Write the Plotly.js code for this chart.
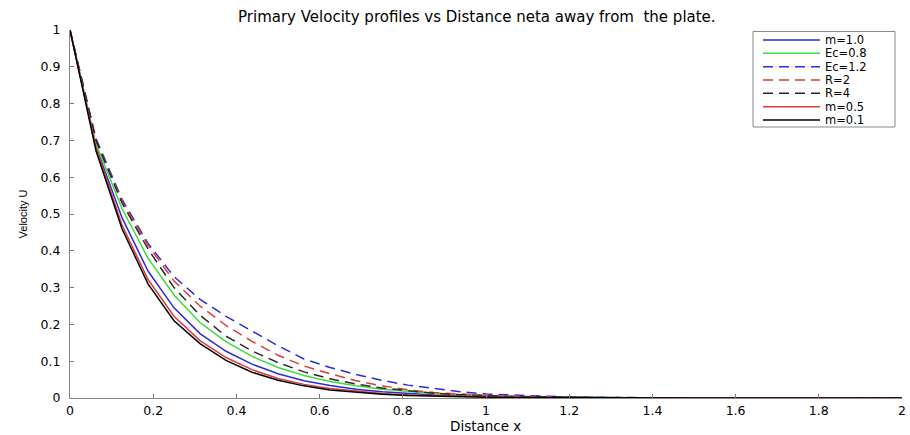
<!DOCTYPE html>
<html>
<head>
<meta charset="utf-8">
<script src="https://cdn.plot.ly/plotly-3.0.1.min.js"></script>
<style>html,body{margin:0;padding:0;background:#fff;}#chart{width:910px;height:435px;}</style>
</head>
<body>
<div id="chart"></div>
<script>
// Distance nodes
const distance = [0, 0.0625, 0.125, 0.1875, 0.25, 0.3125, 0.375, 0.4375, 0.5, 0.5625, 0.625, 0.6875, 0.75, 0.8125, 0.875, 0.9375, 1, 1.0625, 1.125, 1.1875, 1.25, 1.3125, 1.375, 1.4375, 1.5, 1.5625, 1.625, 1.6875, 1.75, 1.8125, 1.875, 1.9375, 2];

// Velocity series
const m10  = [1, 0.683, 0.49, 0.345, 0.245, 0.175, 0.127, 0.092, 0.066, 0.047, 0.034, 0.024, 0.017, 0.012, 0.008, 0.006, 0.004, 0.003, 0.002, 0.001, 0.001, 0, 0, 0, 0, 0, 0, 0, 0, 0, 0, 0, 0];
const ec08 = [1, 0.69, 0.515, 0.38, 0.28, 0.205, 0.153, 0.113, 0.083, 0.061, 0.045, 0.033, 0.024, 0.017, 0.012, 0.009, 0.006, 0.004, 0.003, 0.002, 0.001, 0.001, 0, 0, 0, 0, 0, 0, 0, 0, 0, 0, 0];
const ec12 = [1, 0.705, 0.54, 0.42, 0.33, 0.268, 0.222, 0.182, 0.142, 0.106, 0.083, 0.064, 0.048, 0.035, 0.025, 0.017, 0.011, 0.008, 0.005, 0.003, 0.002, 0.001, 0.001, 0.0005, 0, 0, 0, 0, 0, 0, 0, 0, 0];
const r2   = [1, 0.70, 0.535, 0.415, 0.318, 0.25, 0.197, 0.154, 0.116, 0.087, 0.066, 0.047, 0.033, 0.022, 0.015, 0.01, 0.007, 0.005, 0.003, 0.002, 0.001, 0.001, 0, 0, 0, 0, 0, 0, 0, 0, 0, 0, 0];
const r4   = [1, 0.70, 0.53, 0.405, 0.30, 0.225, 0.168, 0.128, 0.096, 0.071, 0.052, 0.038, 0.027, 0.019, 0.013, 0.009, 0.006, 0.004, 0.003, 0.002, 0.001, 0.001, 0, 0, 0, 0, 0, 0, 0, 0, 0, 0, 0];
const m05  = [1, 0.68, 0.47, 0.322, 0.222, 0.156, 0.11, 0.077, 0.053, 0.037, 0.026, 0.018, 0.012, 0.008, 0.006, 0.004, 0.003, 0.002, 0.001, 0.001, 0, 0, 0, 0, 0, 0, 0, 0, 0, 0, 0, 0, 0];
const m01  = [1, 0.672, 0.46, 0.31, 0.21, 0.148, 0.102, 0.07, 0.048, 0.033, 0.022, 0.015, 0.01, 0.007, 0.005, 0.003, 0.002, 0.0015, 0.001, 0.0005, 0, 0, 0, 0, 0, 0, 0, 0, 0, 0, 0, 0, 0];

const seriesNames = ["m=1.0", "Ec=0.8", "Ec=1.2", "R=2", "R=4", "m=0.5", "m=0.1"];
const seriesValues = [m10, ec08, ec12, r2, r4, m05, m01];
const seriesColors = ["#2b2bd9", "#3ddc3d", "#2b2bd9", "#e03a3a", "#2a2a2a", "#e03a3a", "#000000"];
const seriesDash = ["solid", "solid", "10px,6px", "10px,6px", "10px,6px", "solid", "solid"];

const xTicks = [0, 0.2, 0.4, 0.6, 0.8, 1, 1.2, 1.4, 1.6, 1.8, 2];
const yTicks = [0, 0.1, 0.2, 0.3, 0.4, 0.5, 0.6, 0.7, 0.8, 0.9, 1];

const traces = seriesNames.map((n, i) => ({
  type: "scatter", mode: "lines", name: n,
  x: distance, y: seriesValues[i],
  line: {color: seriesColors[i], width: 1.5, dash: seriesDash[i]},
  showlegend: false
}));

// custom legend (MATLAB style)
const L = 70, R = 8, T = 30, B = 37, W = 910, H = 435;
const pw = W - L - R, ph = H - T - B;
const px = v => (v - L) / pw;
const py = v => (H - B - v) / ph;
const sans = "DejaVu Sans, Arial, sans-serif";
const shapes = [{type: "rect", xref: "paper", yref: "paper", x0: px(753), x1: px(895), y0: py(127), y1: py(31.5),
  fillcolor: "#ffffff", line: {color: "#8a8a8a", width: 1}, layer: "above"}];
const annotations = [];
seriesNames.forEach((n, i) => {
  const yy = py(40 + 13.33 * i);
  shapes.push({type: "line", xref: "paper", yref: "paper", x0: px(763), x1: px(820), y0: yy, y1: yy,
    line: {color: seriesColors[i], width: 1.5, dash: seriesDash[i]}, layer: "above"});
  annotations.push({xref: "paper", yref: "paper", x: px(824), y: yy, xanchor: "left", yanchor: "middle",
    text: n, showarrow: false, borderpad: 0,
    font: {family: sans, size: 11.5, color: "#000"}});
});
// x-axis title placed as annotation
annotations.push({xref: "paper", yref: "paper", x: px(485), y: py(426), xanchor: "center", yanchor: "middle",
  text: "Distance x", showarrow: false, borderpad: 0, font: {family: sans, size: 13.5, color: "#000"}});

const tickFont = {family: sans, size: 12.5, color: "#000"};
const layout = {
  width: W, height: H,
  margin: {l: L, r: R, t: T, b: B, pad: 0},
  paper_bgcolor: "#fff", plot_bgcolor: "#fff",
  showlegend: false,
  title: {text: "Primary Velocity profiles vs Distance neta away from  the plate.", xref: "container", x: 0.524, y: 1 - 17 / H, yanchor: "middle", xanchor: "center",
    font: {family: sans, size: 15, color: "#000"}},
  xaxis: {range: [0, 2], tickvals: xTicks, ticks: "inside", ticklen: 4, tickcolor: "#777", showline: true, linecolor: "#888", linewidth: 1,
    showgrid: false, zeroline: false, tickfont: tickFont, ticklabelstandoff: 1, automargin: false},
  yaxis: {range: [0, 1], tickvals: yTicks, ticks: "inside", ticklen: 4, tickcolor: "#777", showline: true, linecolor: "#888", linewidth: 1,
    showgrid: false, zeroline: false, tickfont: tickFont, ticklabelstandoff: 6,
    title: {text: "Velocity U", font: {family: "Liberation Sans Narrow, Arial Narrow, Liberation Sans, sans-serif", size: 11, color: "#000"}, standoff: 10}, automargin: false},
  shapes: shapes, annotations: annotations
};
Plotly.newPlot("chart", traces, layout, {displayModeBar: false, staticPlot: true});
</script>
</body>
</html>
